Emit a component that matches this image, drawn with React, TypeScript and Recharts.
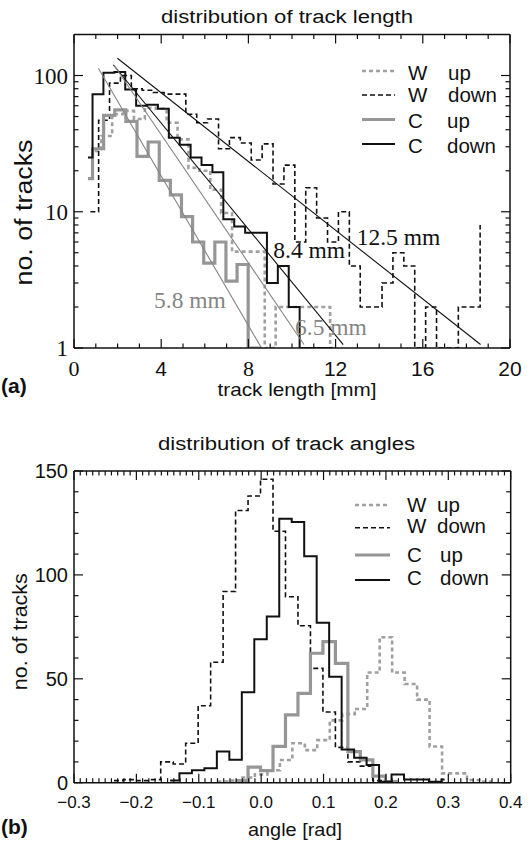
import React from "react";
import { LineChart, Line, XAxis, YAxis, ReferenceDot } from "recharts";

const SANS = '"Liberation Sans", Arial, Helvetica, sans-serif';
const SERIF = '"Liberation Serif", "Times New Roman", serif';
const INK = "#111";
const GREY = "#969696";
const GREY_DOT = "#a0a0a0";
const GREY_FIT = "#858585";

// (a) distribution of track length: bin left edges [mm] and counts
const lenWUpX = [0.95, 1.25, 1.75, 2.25, 2.75, 3.25, 3.75, 4.25, 4.75, 5.25, 5.75, 6.25, 6.75, 7.25, 7.75, 8.25, 8.75, 9.25, 9.75, 10.25, 10.75, 11.25, 11.75, 11.9];
const lenWUpN = [28, 36, 52, 55, 48, 58, 57, 45, 34, 21, 20, 14.5, 9.8, 5.1, 5.1, 5.1, 1, 2, 2, 2, 2, 2, 1, 1];
const lenWDownX = [0.75, 1.13, 1.63, 2.13, 2.63, 3.13, 3.63, 4.13, 4.63, 5.13, 5.63, 6.13, 6.63, 7.13, 7.63, 8.13, 8.63, 9.13, 9.63, 10.13, 10.63, 11.13, 11.63, 12.13, 12.63, 13.13, 13.63, 14.13, 14.63, 15.13, 15.63, 16.13, 16.63, 17.13, 17.63, 18.13, 18.63];
const lenWDownN = [10, 47, 88, 100, 80, 78, 75, 73, 73, 52, 45, 48, 29, 35, 32, 24, 31.5, 16, 22, 6, 15, 9, 6, 10, 4, 2, 2, 3, 5, 4, 1, 2, 1, 1, 2, 2, 8];
const lenCUpX = [0.64, 0.85, 1.36, 1.87, 2.38, 2.89, 3.4, 3.91, 4.42, 4.93, 5.44, 5.95, 6.46, 6.97, 7.48, 7.99, 8.6];
const lenCUpN = [17.5, 29, 51, 56, 46, 25.5, 32.5, 17, 13.3, 9.2, 6, 4.2, 6, 3.1, 4.1, 1, 1];
const lenCDownX = [0.64, 0.85, 1.35, 1.85, 2.35, 2.85, 3.35, 3.85, 4.35, 4.85, 5.35, 5.85, 6.35, 6.85, 7.35, 7.85, 8.35, 8.85, 9.35, 9.85, 10.35, 11.85];
const lenCDownN = [25, 73, 105, 106, 79, 60, 61, 57, 35, 31, 25, 22, 19.5, 8.8, 7.8, 7, 7, 3, 4, 2, 1, 1];

// exponential fits: end points and decay length labels
const fitNames = ["12.5 mm", "8.4 mm", "6.5 mm", "5.8 mm"];
const fitX = [[1.99, 18.65], [1.8, 12.35], [1.85, 10.55], [1.12, 8.6]];
const fitN = [[134, 1.06], [120, 1.06], [118, 1.06], [113, 1.0]];

// (b) distribution of track angles: bin left edges [rad] and counts
const angWUpX = [-0.07, -0.05, -0.03, -0.01, 0.01, 0.03, 0.05, 0.07, 0.09, 0.11, 0.13, 0.15, 0.17, 0.19, 0.21, 0.23, 0.25, 0.27, 0.29, 0.31, 0.33, 0.35, 0.37];
const angWUpN = [0.5, 1, 2.5, 4, 6, 10.9, 19, 15.7, 20.5, 30, 33, 35.5, 53, 70, 53, 47.5, 40, 17.4, 4.5, 4.5, 1.3, 0.5, 0.5];
const angWDownX = [-0.236, -0.221, -0.201, -0.181, -0.161, -0.141, -0.121, -0.101, -0.081, -0.061, -0.041, -0.021, -0.001, 0.019, 0.039, 0.059, 0.079, 0.099, 0.119, 0.139, 0.159, 0.179, 0.194];
const angWDownN = [1, 1.5, 1, 1.5, 10, 9, 19, 37, 58, 92, 131, 138, 146, 121, 89.5, 75.5, 55, 34, 17, 10, 8, 1, 1];
const angCUpX = [-0.041, -0.021, -0.001, 0.019, 0.039, 0.059, 0.079, 0.099, 0.119, 0.139, 0.159, 0.179, 0.199, 0.219];
const angCUpN = [1, 7.5, 5.8, 17.5, 32.6, 43, 62.3, 67.9, 57.4, 15, 11, 3.2, 0.5, 0.5];
const angCDownX = [-0.146, -0.131, -0.111, -0.091, -0.071, -0.051, -0.031, -0.011, 0.009, 0.029, 0.049, 0.069, 0.089, 0.109, 0.129, 0.149, 0.169, 0.189, 0.209, 0.229, 0.249, 0.269, 0.289, 0.294];
const angCDownN = [1, 4.5, 6, 7, 15, 11, 43.5, 69, 80, 127, 125.5, 109, 77, 51, 16, 12, 8.5, 0.5, 4, 1.5, 1.5, 0.5, 1.5, 1.5];

const legendDet = ["W", "W", "C", "C"];
const legendDir = ["up", "down", "up", "down"];

const lenXTicks = [0, 1, 2, 3, 4, 5, 6, 7, 8, 9, 10, 11, 12, 13, 14, 15, 16, 17, 18, 19, 20];
const lenYTicks = [1, 2, 3, 4, 5, 6, 7, 8, 9, 10, 20, 30, 40, 50, 60, 70, 80, 90, 100];
const angXTicks = Array.from({ length: 71 }, (_, i) => Math.round((-0.3 + i * 0.01) * 100) / 100);
const angYTicks = [0, 10, 20, 30, 40, 50, 60, 70, 80, 90, 100, 110, 120, 130, 140, 150];

const STYLES = [
  { stroke: GREY_DOT, strokeWidth: 2.6, strokeDasharray: "4 3" },
  { stroke: INK, strokeWidth: 1.6, strokeDasharray: "5 3" },
  { stroke: GREY, strokeWidth: 3.2 },
  { stroke: INK, strokeWidth: 2 },
];

const pts = (xs: number[], ys: number[]) => xs.map((x, i) => ({ x, y: ys[i] }));

const lenSeries = [pts(lenWUpX, lenWUpN), pts(lenWDownX, lenWDownN), pts(lenCUpX, lenCUpN), pts(lenCDownX, lenCDownN)];
const angSeries = [pts(angWUpX, angWUpN), pts(angWDownX, angWDownN), pts(angCUpX, angCUpN), pts(angCDownX, angCDownN)];

// where the fit labels sit (data units, text baseline)
const fitLabelAt = [
  { x: 12.97, y: 5.72, color: INK },
  { x: 9.14, y: 4.57, color: INK },
  { x: 10.14, y: 1.25, color: GREY_FIT },
  { x: 3.67, y: 1.96, color: GREY_FIT },
];

type Font = { family: string; size: number };

// ticks are drawn inward, like IDL
const vTick = (dir: 1 | -1, isMajor: (v: number) => boolean, fmt?: (v: number) => string, font?: Font) =>
  (p: any) => {
    const v = p.payload.value;
    const major = isMajor(v);
    return (
      <g>
        <line x1={p.x} y1={p.y} x2={p.x + dir * (major ? 9 : 4.5)} y2={p.y} stroke={INK} strokeWidth={1.2} />
        {fmt && font && major && (
          <text x={p.x - 6} y={p.y + font.size * 0.36} textAnchor="end" fontFamily={font.family} fontSize={font.size} fill={INK}>
            {fmt(v)}
          </text>
        )}
      </g>
    );
  };

const hTick = (dir: 1 | -1, isMajor: (v: number) => boolean, fmt?: (v: number) => string, fontOf?: (v: number) => Font, gap = 0) =>
  (p: any) => {
    const v = p.payload.value;
    const major = isMajor(v);
    const f = fontOf ? fontOf(v) : null;
    return (
      <g>
        <line x1={p.x} y1={p.y} x2={p.x} y2={p.y + dir * (major ? 9 : 4.5)} stroke={INK} strokeWidth={1.2} />
        {fmt && f && major && (
          <text x={p.x} y={p.y + gap} textAnchor="middle" fontFamily={f.family} fontSize={f.size} fill={INK}>
            {fmt(v)}
          </text>
        )}
      </g>
    );
  };

const axisLine = { stroke: INK, strokeWidth: 1.5 };
const lenMajorX = (v: number) => v % 4 === 0;
const lenMajorY = (v: number) => v === 1 || v === 10 || v === 100;
const angMajorX = (v: number) => Math.abs(v * 10 - Math.round(v * 10)) < 1e-6;
const angMajorY = (v: number) => v % 50 === 0;
const angFmt = (v: number) => (v < 0 ? "\u2212" + Math.abs(v).toFixed(1) : v.toFixed(1));

const LengthChart = () => (
  <LineChart width={531} height={420} margin={{ top: 24.5, right: 11, bottom: 62, left: 64 }}>
    <XAxis type="number" dataKey="x" domain={[0, 20]} allowDataOverflow ticks={lenXTicks} interval={0}
      height={10} tickSize={0} tickMargin={0} tickLine={false} axisLine={axisLine}
      tick={hTick(-1, lenMajorX, (v) => String(v), (v) => (v === 0 || v === 8 ? { family: SERIF, size: 22 } : { family: SANS, size: 21 }), 28)} />
    <XAxis xAxisId="top" orientation="top" type="number" dataKey="x" domain={[0, 20]} allowDataOverflow ticks={lenXTicks} interval={0}
      height={10} tickSize={0} tickMargin={0} tickLine={false} axisLine={axisLine} tick={hTick(1, lenMajorX)} />
    <YAxis type="number" scale="log" domain={[1, 200]} allowDataOverflow ticks={lenYTicks} interval={0}
      width={10} tickSize={0} tickMargin={0} tickLine={false} axisLine={axisLine}
      tick={vTick(1, lenMajorY, (v) => String(v), { family: SERIF, size: 23 })} />
    <YAxis yAxisId="right" orientation="right" type="number" scale="log" domain={[1, 200]} allowDataOverflow ticks={lenYTicks} interval={0}
      width={10} tickSize={0} tickMargin={0} tickLine={false} axisLine={axisLine} tick={vTick(-1, lenMajorY)} />
    {lenSeries.map((d, i) => (
      <Line key={"h" + i} data={d} dataKey="y" type="stepAfter" dot={false} activeDot={false} isAnimationActive={false} {...STYLES[i]} />
    ))}
    {fitX.map((xs, i) => (
      <Line key={"f" + i} data={pts(xs, fitN[i])} dataKey="y" type="linear" dot={false} activeDot={false} isAnimationActive={false}
        stroke={i < 2 ? INK : GREY_FIT} strokeWidth={1.1} />
    ))}
    {fitLabelAt.map((a, i) => (
      <ReferenceDot key={"l" + i} x={a.x} y={a.y} r={1}
        shape={(p: any) => (
          <text x={p.cx} y={p.cy} fontFamily={SERIF} fontSize={23.5} fill={a.color}>{fitNames[i]}</text>
        )} />
    ))}
  </LineChart>
);

const AngleChart = () => (
  <LineChart width={531} height={421} margin={{ top: 41, right: 10.3, bottom: 48.3, left: 64 }}>
    <XAxis type="number" dataKey="x" domain={[-0.3, 0.4]} allowDataOverflow ticks={angXTicks} interval={0}
      height={10} tickSize={0} tickMargin={0} tickLine={false} axisLine={axisLine}
      tick={hTick(-1, angMajorX, angFmt, () => ({ family: SANS, size: 17 }), 25)} />
    <XAxis xAxisId="top" orientation="top" type="number" dataKey="x" domain={[-0.3, 0.4]} allowDataOverflow ticks={angXTicks} interval={0}
      height={10} tickSize={0} tickMargin={0} tickLine={false} axisLine={axisLine} tick={hTick(1, angMajorX)} />
    <YAxis type="number" domain={[0, 150]} allowDataOverflow ticks={angYTicks} interval={0}
      width={10} tickSize={0} tickMargin={0} tickLine={false} axisLine={axisLine}
      tick={vTick(1, angMajorY, (v) => String(v), { family: SANS, size: 20 })} />
    <YAxis yAxisId="right" orientation="right" type="number" domain={[0, 150]} allowDataOverflow ticks={angYTicks} interval={0}
      width={10} tickSize={0} tickMargin={0} tickLine={false} axisLine={axisLine} tick={vTick(-1, angMajorY)} />
    {angSeries.map((d, i) => (
      <Line key={"h" + i} data={d} dataKey="y" type="stepAfter" dot={false} activeDot={false} isAnimationActive={false} {...STYLES[i]} />
    ))}
  </LineChart>
);

type LegendPos = { x1: number; x2: number; lineY: number[]; textY: number[]; detX: number; dirX: number[] };

const Legend = ({ pos }: { pos: LegendPos }) => (
  <g fontFamily={SANS} fontSize={20.5} fill={INK}>
    {legendDet.map((det, i) => (
      <g key={i}>
        <line x1={pos.x1} x2={pos.x2} y1={pos.lineY[i]} y2={pos.lineY[i]} {...STYLES[i]} />
        <text x={pos.detX} y={pos.textY[i]}>{det}</text>
        <text x={pos.dirX[i]} y={pos.textY[i]}>{legendDir[i]}</text>
      </g>
    ))}
  </g>
);

const Overlay = () => (
  <svg width={531} height={841} style={{ position: "absolute", left: 0, top: 0, pointerEvents: "none" }}>
    <g fontFamily={SANS} fill={INK}>
      <text x={287} y={22.5} fontSize={18} textAnchor="middle" textLength={252} lengthAdjust="spacingAndGlyphs">distribution of track length</text>
      <text x={297} y={396} fontSize={18.5} textAnchor="middle" textLength={159} lengthAdjust="spacingAndGlyphs">track length [mm]</text>
      <text transform="translate(31.5,212.5) rotate(-90)" fontSize={23} textAnchor="middle" textLength={146} lengthAdjust="spacingAndGlyphs">no. of tracks</text>
      <text x={1} y={393} fontSize={21} fontWeight="bold">(a)</text>

      <text x={286.5} y={449.5} fontSize={18} textAnchor="middle" textLength={257} lengthAdjust="spacingAndGlyphs">distribution of track angles</text>
      <text x={295} y={836} fontSize={17.5} textAnchor="middle" textLength={94} lengthAdjust="spacingAndGlyphs">angle [rad]</text>
      <text transform="translate(27,631.7) rotate(-90)" fontSize={19.5} textAnchor="middle" textLength={117} lengthAdjust="spacingAndGlyphs">no. of tracks</text>
      <text x={1} y={834} fontSize={21} fontWeight="bold">(b)</text>
    </g>
    <Legend pos={{ x1: 362, x2: 395, lineY: [71, 95, 119.5, 144], textY: [80, 102, 128, 153], detX: 408, dirX: [448, 448, 447, 447] }} />
    <Legend pos={{ x1: 355, x2: 390, lineY: [505, 527.7, 555, 580], textY: [512, 533, 562, 585], detX: 407, dirX: [437, 437, 440, 440] }} />
  </svg>
);

export default function App() {
  return (
    <div style={{ position: "relative", width: 531, height: 841, overflow: "hidden", background: "#fff" }}>
      <style>{"html,body{margin:0;padding:0;overflow:hidden;}"}</style>
      <div style={{ position: "absolute", left: 0, top: 0 }}>
        <LengthChart />
      </div>
      <div style={{ position: "absolute", left: 0, top: 420 }}>
        <AngleChart />
      </div>
      <Overlay />
    </div>
  );
}
